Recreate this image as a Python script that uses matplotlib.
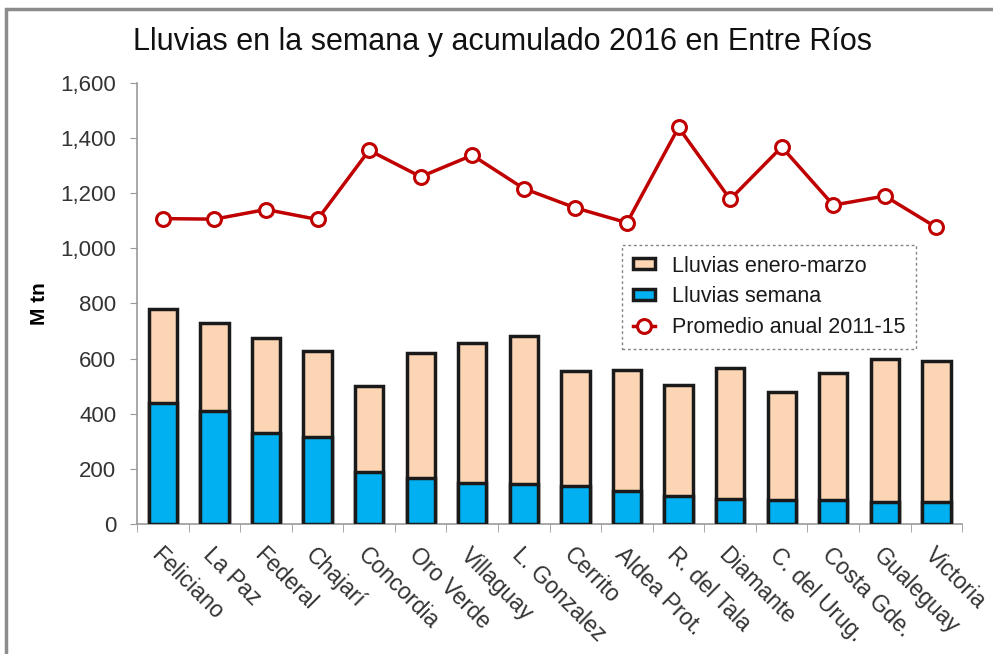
import matplotlib
matplotlib.use('Agg')
import matplotlib.pyplot as plt
from matplotlib.patches import Rectangle
from matplotlib.ticker import FuncFormatter, MultipleLocator
import numpy as np

departamentos = ['Feliciano', 'La Paz', 'Federal', 'Chajarí', 'Concordia', 'Oro Verde',
                 'Villaguay', 'L. Gonzalez', 'Cerrito', 'Aldea Prot.', 'R. del Tala',
                 'Diamante', 'C. del Urug.', 'Costa Gde.', 'Gualeguay', 'Victoria']
enero_marzo = [780, 730, 675, 627, 500, 621, 657, 681, 554, 560, 503, 564, 479, 549, 598, 592]
semana = [439, 409, 328, 316, 189, 165, 149, 143, 137, 120, 100, 92, 88, 86, 80, 80]
promedio = [1108, 1106, 1141, 1105, 1356, 1260, 1338, 1217, 1147, 1093, 1439, 1178, 1368, 1157, 1190, 1076]

plt.rcParams['font.family'] = ['Liberation Sans', 'DejaVu Sans']

fig = plt.figure(figsize=(9.93, 6.54), dpi=100)
ax = fig.add_axes([0.138, 0.199, 0.831, 0.674])

# marco gris del grafico
fig.patches.append(Rectangle((6 / 993, -0.1), 1.2, 1 - 9 / 654 + 0.1, transform=fig.transFigure,
                             fill=False, edgecolor='#8c8c8c', linewidth=2.5, zorder=0))

x = np.arange(len(departamentos))
b1 = ax.bar(x, enero_marzo, width=0.55, color='#FCD5B4', edgecolor='#1a1a1a', linewidth=2.5,
            label='Lluvias enero-marzo', zorder=2)
b2 = ax.bar(x, semana, width=0.55, color='#00B0F0', edgecolor='#1a1a1a', linewidth=2.5,
            label='Lluvias semana', zorder=3)
l1, = ax.plot(x, promedio, color='#C00000', linewidth=2.5, marker='o', markersize=10,
              markerfacecolor='white', markeredgecolor='#C00000', markeredgewidth=2.2,
              label='Promedio anual 2011-15', zorder=4)

ax.set_xlim(-0.5, len(departamentos) - 0.5)
ax.set_ylim(0, 1600)
ax.yaxis.set_major_locator(MultipleLocator(200))
ax.yaxis.set_major_formatter(FuncFormatter(lambda v, p: f'{int(v):,}'))

ax.set_xticks(x)
ax.set_xticklabels(departamentos, rotation=-45, ha='left', va='top', rotation_mode='anchor',
                   fontsize=16.5, color='#333333')
ax.set_xticks(np.arange(-0.5, len(departamentos), 1), minor=True)
ax.tick_params(axis='x', which='major', length=0, pad=14)
ax.tick_params(axis='x', which='minor', length=6, color='#999999')
ax.tick_params(axis='y', length=5, color='#999999', labelsize=16, labelcolor='#333333', pad=10)

for s in ['top', 'right']:
    ax.spines[s].set_visible(False)
for s in ['left', 'bottom']:
    ax.spines[s].set_color('#999999')
    ax.spines[s].set_linewidth(1.2)

ax.set_ylabel('M tn', fontsize=15, fontweight='bold', labelpad=8)

fig.text(0.506, 0.936, 'Lluvias en la semana y acumulado 2016 en Entre Ríos',
         ha='center', va='center', fontsize=22, color='#111111')

leg = ax.legend([b1, b2, l1], ['Lluvias enero-marzo', 'Lluvias semana', 'Promedio anual 2011-15'],
                loc='upper left', bbox_to_anchor=(0.588, 0.633), borderaxespad=0, fontsize=15.5,
                frameon=True, fancybox=False, handlelength=1.0, handleheight=0.4,
                borderpad=0.5, labelspacing=0.45, handletextpad=0.8)
leg.get_frame().set_edgecolor('#666666')
leg.get_frame().set_linestyle((0, (2, 2)))
leg.get_frame().set_linewidth(1)
for t in leg.get_texts():
    t.set_color('#1a1a1a')

fig.savefig('out.png', dpi=100)
